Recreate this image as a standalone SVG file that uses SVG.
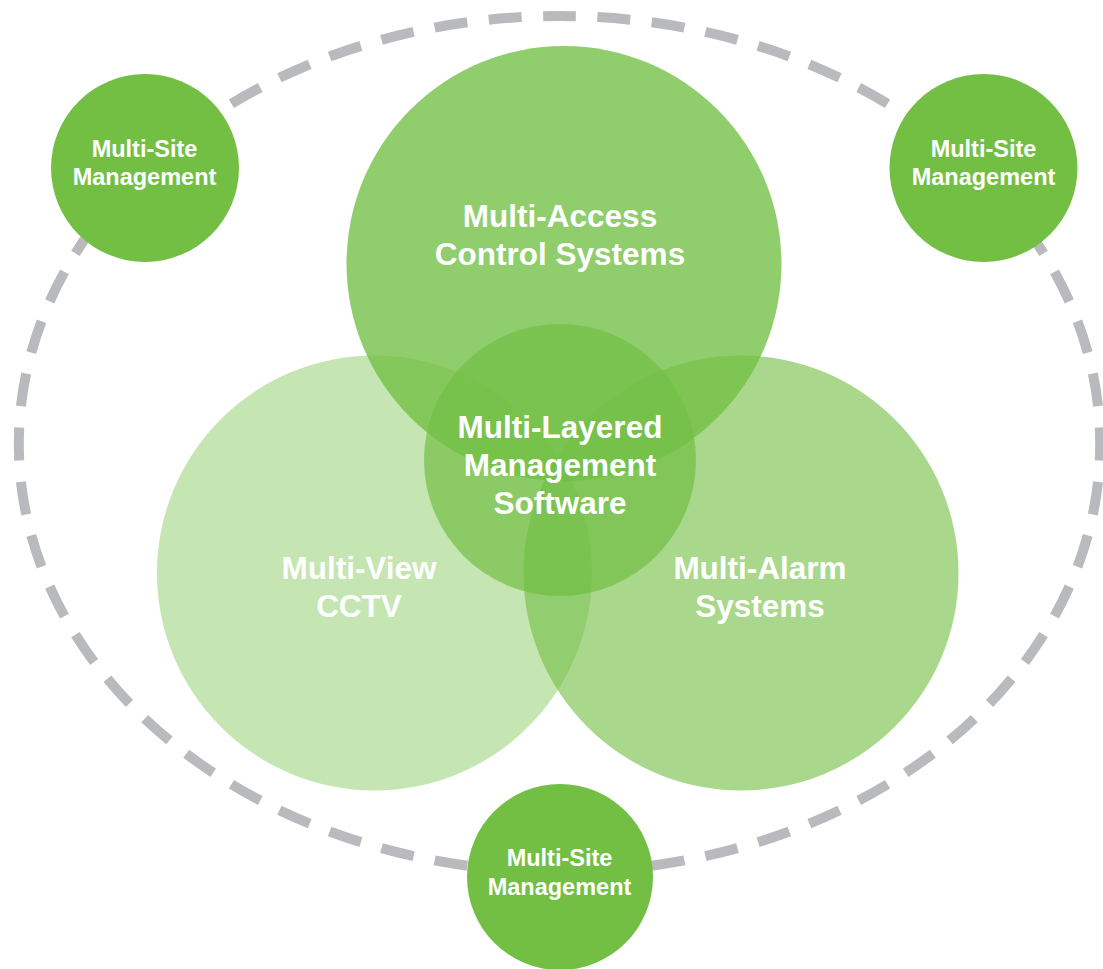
<svg xmlns="http://www.w3.org/2000/svg" width="1103" height="969" viewBox="0 0 1103 969">
<style>
.big{fill:#72bf44}
.t{font-family:"Liberation Sans",Arial,sans-serif;font-weight:bold;fill:#ffffff;text-anchor:middle}
.tl{font-size:31.5px}
.ts{font-size:23.5px}
.ring{fill:none;stroke:#b9babd;stroke-width:10}
</style>
<rect width="1103" height="969" fill="#ffffff"/>
<g id="connectors">
<path class="ring" d="M 559.5 16 A 540.5 428 0 1 1 559.5 872 A 540.5 428 0 1 1 559.5 16" pathLength="560" stroke-dasharray="6.06 3.94" stroke-dashoffset="3.03"/>
</g>
<g id="cctv">
<circle class="big" cx="374.5" cy="573" r="217.5" fill-opacity="0.41"/>
<text class="t tl" x="359" y="579">Multi-View</text>
<text class="t tl" x="359" y="617">CCTV</text>
</g>
<g id="alarm">
<circle class="big" cx="741" cy="573" r="217.5" fill-opacity="0.61"/>
<text class="t tl" x="760" y="579">Multi-Alarm</text>
<text class="t tl" x="760" y="617">Systems</text>
</g>
<g id="access">
<circle class="big" cx="564" cy="263.5" r="217.5" fill-opacity="0.79"/>
<text class="t tl" x="560" y="227">Multi-Access</text>
<text class="t tl" x="560" y="265">Control Systems</text>
</g>
<g id="core">
<circle class="big" cx="560" cy="460" r="136" fill-opacity="0.7"/>
<text class="t tl" x="560" y="438">Multi-Layered</text>
<text class="t tl" x="560" y="476">Management</text>
<text class="t tl" x="560" y="514">Software</text>
</g>
<g id="site-top-left">
<circle cx="145" cy="168" r="94" fill="#72bf44"/>
<text class="t ts" x="144.5" y="157">Multi-Site</text>
<text class="t ts" x="144.5" y="185">Management</text>
</g>
<g id="site-top-right">
<circle cx="983.5" cy="168" r="94" fill="#72bf44"/>
<text class="t ts" x="983.5" y="157">Multi-Site</text>
<text class="t ts" x="983.5" y="185">Management</text>
</g>
<g id="site-bottom">
<circle cx="560" cy="877" r="93" fill="#72bf44"/>
<text class="t ts" x="559.5" y="866">Multi-Site</text>
<text class="t ts" x="559.5" y="895">Management</text>
</g>
</svg>
